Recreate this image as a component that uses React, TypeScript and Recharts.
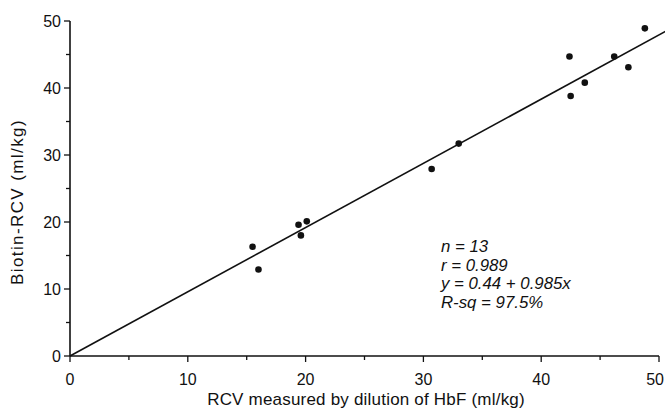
import {
  ComposedChart,
  Customized,
  ReferenceLine,
  Scatter,
  XAxis,
  YAxis,
} from "recharts";

// RCV by HbF dilution (x) vs biotin-RCV (y), ml/kg
const rcvHbf = [15.5, 16.0, 19.4, 19.6, 20.1, 30.7, 33.0, 42.4, 42.5, 43.7, 46.2, 47.4, 48.8];
const rcvBiotin = [16.3, 12.9, 19.6, 18.0, 20.1, 27.9, 31.7, 44.7, 38.8, 40.8, 44.7, 43.1, 48.9];

// ends of the fitted line as drawn (it runs a little past the x = 50 tick)
const fitStart = { x: 0, y: 0 };
const fitEnd = { x: 50.6, y: 48.5 };

const axisTicks = [0, 5, 10, 15, 20, 25, 30, 35, 40, 45, 50];

const statLines = ["n = 13", "r = 0.989", "y = 0.44 + 0.985x", "R-sq = 97.5%"];

const points = rcvHbf.map((x, i) => ({ x, y: rcvBiotin[i] }));

const FONT = '"Liberation Sans", Arial, Helvetica, sans-serif';
const INK = "#111";

function XTick({ x, y, payload }: any) {
  const major = payload.value % 10 === 0;
  // last label sits against the right edge
  const last = payload.value === 50;
  return (
    <g>
      <line x1={x} y1={y} x2={x} y2={y + (major ? 6 : 4)} stroke={INK} strokeWidth={1.3} />
      {major && (
        <text
          x={last ? 664 : x}
          y={y + 29}
          textAnchor={last ? "end" : "middle"}
          fontSize={16}
          fontFamily={FONT}
          fill={INK}
        >
          {payload.value}
        </text>
      )}
    </g>
  );
}

function YTick({ x, y, payload }: any) {
  const major = payload.value % 10 === 0;
  return (
    <g>
      <line x1={x} y1={y} x2={x - (major ? 6 : 4)} y2={y} stroke={INK} strokeWidth={1.3} />
      {major && (
        <text x={x - 9} y={y + 6} textAnchor="end" fontSize={16} fontFamily={FONT} fill={INK}>
          {payload.value}
        </text>
      )}
    </g>
  );
}

function Dot(props: any) {
  return <circle cx={props.cx} cy={props.cy} r={3.3} fill={INK} />;
}

function Labels() {
  return (
    <g fontFamily={FONT} fill={INK}>
      <text x={366} y={405} textAnchor="middle" fontSize={17} letterSpacing={0.2}>
        RCV measured by dilution of HbF (ml/kg)
      </text>
      <text
        x={23}
        y={202}
        textAnchor="middle"
        fontSize={17}
        letterSpacing={1.4}
        transform="rotate(-90, 23, 202)"
      >
        Biotin-RCV (ml/kg)
      </text>
      {statLines.map((s, i) => (
        <text key={s} x={441} y={252 + i * 18.5} fontSize={16.8} fontStyle="italic">
          {s}
        </text>
      ))}
    </g>
  );
}

export default function App() {
  return (
    <div
      style={{
        position: "absolute",
        left: 0,
        top: 0,
        width: 665,
        height: 409,
        background: "#fff",
        overflow: "hidden",
      }}
    >
      <ComposedChart
        width={665}
        height={409}
        data={points}
        margin={{ top: 21, right: 6, bottom: 0, left: 0 }}
      >
        <XAxis
          type="number"
          dataKey="x"
          domain={[0, 50]}
          ticks={axisTicks}
          interval={0}
          height={53}
          tickLine={false}
          tickSize={0}
          tickMargin={0}
          tick={<XTick />}
          axisLine={{ stroke: INK, strokeWidth: 1.6 }}
        />
        <YAxis
          type="number"
          dataKey="y"
          domain={[0, 50]}
          ticks={axisTicks}
          interval={0}
          width={70}
          tickLine={false}
          tickSize={0}
          tickMargin={0}
          tick={<YTick />}
          axisLine={{ stroke: INK, strokeWidth: 1.6 }}
        />
        <ReferenceLine
          segment={[fitStart, fitEnd]}
          stroke={INK}
          strokeWidth={1.6}
          ifOverflow="visible"
        />
        <Scatter data={points} dataKey="y" shape={<Dot />} isAnimationActive={false} />
        <Customized component={Labels} />
      </ComposedChart>
    </div>
  );
}
